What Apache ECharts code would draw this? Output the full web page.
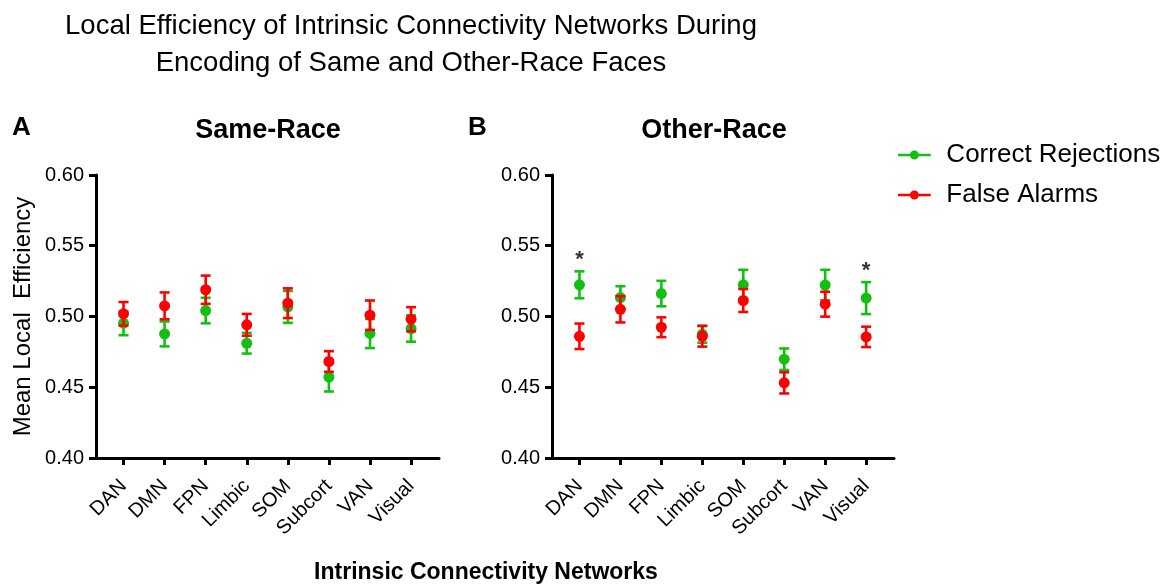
<!DOCTYPE html>
<html>
<head>
<meta charset="utf-8">
<script src="https://cdn.jsdelivr.net/npm/echarts@6/dist/echarts.min.js"></script>
<style>
html,body{margin:0;padding:0;background:#fff;}
#chart{width:1167px;height:587px;}
</style>
</head>
<body>
<div id="chart"></div>
<script>
// ---- data ----
const categories = ['DAN','DMN','FPN','Limbic','SOM','Subcort','VAN','Visual'];
const sameCRMean = [0.4953, 0.4877, 0.5042, 0.4811, 0.5068, 0.4571, 0.4880, 0.4915];
const sameCRErr  = [0.0085, 0.0088, 0.0090, 0.0073, 0.0113, 0.0101, 0.0103, 0.0093];
const sameFAMean = [0.5019, 0.5075, 0.5189, 0.4941, 0.5094, 0.4682, 0.5009, 0.4981];
const sameFAErr  = [0.0083, 0.0095, 0.0100, 0.0077, 0.0105, 0.0073, 0.0104, 0.0085];
const otherCRMean = [0.5224, 0.5134, 0.5162, 0.4875, 0.5224, 0.4698, 0.5222, 0.5130];
const otherCRErr  = [0.0095, 0.0080, 0.0090, 0.0060, 0.0106, 0.0076, 0.0108, 0.0113];
const otherFAMean = [0.4860, 0.5051, 0.4924, 0.4860, 0.5113, 0.4531, 0.5087, 0.4856];
const otherFAErr  = [0.0090, 0.0093, 0.0070, 0.0073, 0.0081, 0.0075, 0.0088, 0.0072];
const otherSignificant = [0, 7]; // categories marked with *
const seriesNames = ['Correct Rejections', 'False Alarms'];
const yMin = 0.40, yMax = 0.60, yStep = 0.05;

// ---- styles ----
const GREEN = '#14bf14';
const RED = '#ff0000';
const FONT = 'Liberation Sans, Arial, Helvetica, sans-serif';
const catIdx = categories.map((_, i) => i);

function errData(mean, err) {
  return mean.map((m, i) => [i, m - err[i], m + err[i]]);
}
function ptData(mean) {
  return mean.map((m, i) => [i, m]);
}
function errSeries(mean, err, color, axisIdx) {
  return {
    type: 'custom',
    xAxisIndex: axisIdx, yAxisIndex: axisIdx,
    data: errData(mean, err),
    encode: { x: 0, y: [1, 2] },
    silent: true,
    z: color === RED ? 4 : 2,
    renderItem: function (params, api) {
      const x = api.value(0);
      const lo = api.coord([x, api.value(1)]);
      const hi = api.coord([x, api.value(2)]);
      const w = 5;
      const st = { stroke: color, lineWidth: 2.6 };
      return {
        type: 'group',
        children: [
          { type: 'line', shape: { x1: lo[0], y1: lo[1], x2: hi[0], y2: hi[1] }, style: st },
          { type: 'line', shape: { x1: lo[0] - w, y1: lo[1], x2: lo[0] + w, y2: lo[1] }, style: st },
          { type: 'line', shape: { x1: hi[0] - w, y1: hi[1], x2: hi[0] + w, y2: hi[1] }, style: st }
        ]
      };
    }
  };
}
function ptSeries(name, mean, color, axisIdx) {
  return {
    type: 'scatter', name: name,
    xAxisIndex: axisIdx, yAxisIndex: axisIdx,
    data: ptData(mean),
    symbol: 'circle', symbolSize: 11,
    itemStyle: { color: color, opacity: 1 },
    z: color === RED ? 5 : 3
  };
}
function xAxisCfg(gi) {
  return {
    type: 'value', gridIndex: gi, min: -0.67, max: 7.68,
    splitLine: { show: false },
    axisLine: { show: true, onZero: false, lineStyle: { color: '#000', width: 3 } },
    axisTick: { show: true, customValues: catIdx, length: 7, lineStyle: { color: '#000', width: 3 } },
    axisLabel: {
      customValues: catIdx, rotate: 45, margin: 25,
      formatter: v => categories[Math.round(v)],
      fontSize: 20, color: '#000', fontFamily: FONT
    }
  };
}
function yAxisCfg(gi, withName) {
  const c = {
    type: 'value', gridIndex: gi, min: yMin, max: yMax, interval: yStep,
    splitLine: { show: false },
    axisLine: { show: true, onZero: false, lineStyle: { color: '#000', width: 3 } },
    axisTick: { show: true, length: 7, lineStyle: { color: '#000', width: 3 } },
    axisLabel: { formatter: v => v.toFixed(2), fontSize: 20, color: '#000', fontFamily: FONT, margin: 12 }
  };
  if (withName) {
    c.name = 'Mean Local  Efficiency';
    c.nameLocation = 'middle';
    c.nameGap = 61;
    c.nameTextStyle = { fontSize: 24, color: '#000', fontFamily: FONT };
  }
  return c;
}

const legendIcon = 'path://M0,8 L40,8 L40,11 L0,11 Z M14.5,9.5 A5.5,5.5 0 1 1 25.5,9.5 A5.5,5.5 0 1 1 14.5,9.5 Z';

const option = {
  backgroundColor: '#fff',
  animation: false,
  title: [
    { text: 'Local Efficiency of Intrinsic Connectivity Networks During\nEncoding of Same and Other-Race Faces',
      left: 411, top: 8, textAlign: 'center', padding: 0,
      textStyle: { fontSize: 27.5, fontWeight: 'normal', color: '#000', fontFamily: FONT, lineHeight: 37 } },
    { text: 'A', left: 12, top: 115, padding: 0, textStyle: { fontSize: 26, fontWeight: 'bold', color: '#000', fontFamily: FONT } },
    { text: 'B', left: 468, top: 115, padding: 0, textStyle: { fontSize: 26, fontWeight: 'bold', color: '#000', fontFamily: FONT } },
    { text: 'Same-Race', left: 268, top: 117, textAlign: 'center', padding: 0, textStyle: { fontSize: 27, fontWeight: 'bold', color: '#000', fontFamily: FONT } },
    { text: 'Other-Race', left: 714, top: 117, textAlign: 'center', padding: 0, textStyle: { fontSize: 27, fontWeight: 'bold', color: '#000', fontFamily: FONT } },
    { text: 'Intrinsic Connectivity Networks', left: 486, top: 561, textAlign: 'center', padding: 0, textStyle: { fontSize: 23, fontWeight: 'bold', color: '#000', fontFamily: FONT } }
  ],
  legend: {
    data: seriesNames,
    orient: 'vertical', left: 893, top: 137,
    itemWidth: 34, itemHeight: 9, itemGap: 14,
    icon: legendIcon,
    textStyle: { fontSize: 26, color: '#000', fontFamily: FONT, padding: [0, 0, 0, 10] },
    selectedMode: false
  },
  grid: [
    { left: 96, top: 175, width: 343, height: 283 },
    { left: 552, top: 175, width: 342, height: 283 }
  ],
  xAxis: [xAxisCfg(0), xAxisCfg(1)],
  yAxis: [yAxisCfg(0, true), yAxisCfg(1, false)],
  series: [
    errSeries(sameCRMean, sameCRErr, GREEN, 0),
    ptSeries(seriesNames[0], sameCRMean, GREEN, 0),
    errSeries(sameFAMean, sameFAErr, RED, 0),
    ptSeries(seriesNames[1], sameFAMean, RED, 0),
    errSeries(otherCRMean, otherCRErr, GREEN, 1),
    ptSeries(seriesNames[0], otherCRMean, GREEN, 1),
    errSeries(otherFAMean, otherFAErr, RED, 1),
    ptSeries(seriesNames[1], otherFAMean, RED, 1),
    {
      type: 'scatter', xAxisIndex: 1, yAxisIndex: 1, silent: true,
      data: otherSignificant.map(i => [i, otherCRMean[i] + otherCRErr[i]]),
      symbolSize: 0,
      label: { show: true, position: 'top', distance: 0, formatter: '*', fontSize: 22, fontWeight: 'bold', color: '#000', fontFamily: FONT },
      z: 6
    }
  ]
};

const chart = echarts.init(document.getElementById('chart'), null, { renderer: 'canvas' });
chart.setOption(option);
</script>
</body>
</html>
